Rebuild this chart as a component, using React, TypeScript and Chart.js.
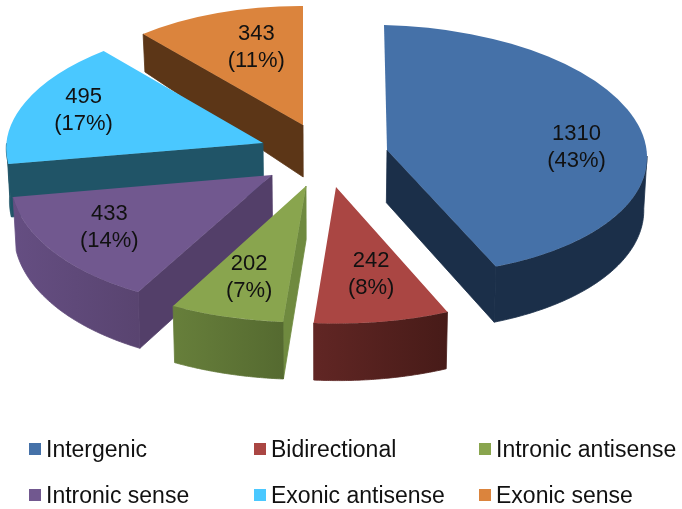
import React, { useEffect, useRef } from "react";
import { Chart, registerables } from "chart.js";

Chart.register(...registerables);

const categories = ["Intergenic", "Bidirectional", "Intronic antisense", "Intronic sense", "Exonic antisense", "Exonic sense"];
const counts = [1310, 242, 202, 433, 495, 343];
const percents = ["43%", "8%", "7%", "14%", "17%", "11%"];
const topColors = ["#4571a8", "#aa4643", "#89a54e", "#71588f", "#4ac8ff", "#db843d"];

const BASE_RADIUS = 262;
const drawOrder = [5, 4, 0, 3, 2, 1];

// Oblique projection of each exploded slice: [a, b, c, d, tx, ty]
const projection: number[][] = [
  [260, 6, 3, 125, 387, 150],
  [273, 1, 0, 136.5, 336, 187],
  [275.7, -1, -0.4, 136.3, 306, 186],
  [261, 0.6, -9.6, 133.8, 272, 175],
  [256.5, -0.4, -11, 121.9, 263, 143],
  [244.6, 1.4, 0, 119, 303, 125],
];
const outerWall = [
  ["#1b2f49", "#1b2f49"],
  ["#612624", "#471b18"],
  ["#677f3b", "#556a30"],
  ["#654e82", "#594470"],
  ["#205467", "#205467"],
  ["#5c3617", "#5c3617"],
];
const sideWall = ["#1b2f49", "#5c2422", "#6f8a3f", "#533f69", "#205467", "#5c3617"];
const labelNudge = [[12, 12], [3, -7], [-1, 0], [-10, -2], [-13, -4], [13, 1]];
const LABEL_FRACTION = 0.7;

const wallDepth = (y: number) => (y < 125 ? 38 + ((y - 35) * 14) / 90 : 52 + ((y - 125) * 5) / 195);

const pie3d = {
  id: "pie3d",
  beforeDatasetsDraw(chart: any) {
    const ctx: CanvasRenderingContext2D = chart.ctx;
    const arcs = chart.getDatasetMeta(0).data;
    const project = (i: number, angle: number, frac: number) => {
      const [a, b, c, d, tx, ty] = projection[i];
      const X = Math.cos(angle) * frac;
      const Y = Math.sin(angle) * frac;
      return { x: tx + a * X + c * Y, y: ty + b * X + d * Y };
    };
    const lower = (p: { x: number; y: number }) => ({
      x: p.x + (323 - p.x) * 0.01,
      y: p.y + wallDepth(p.y),
    });
    const fillPoly = (pts: { x: number; y: number }[], fill: any) => {
      ctx.beginPath();
      pts.forEach((p, k) => (k ? ctx.lineTo(p.x, p.y) : ctx.moveTo(p.x, p.y)));
      ctx.closePath();
      ctx.fillStyle = fill;
      ctx.strokeStyle = fill;
      ctx.lineWidth = 0.8;
      ctx.lineJoin = "round";
      ctx.fill();
      ctx.stroke();
    };
    for (const i of drawOrder) {
      const arc = arcs[i];
      const start = arc.startAngle;
      const end = arc.endAngle;
      const tip = project(i, 0, 0);
      // radial walls facing the viewer (angles measured by the pie scale, 0 = 3 o'clock)
      const thetaStart = start + Math.PI / 2;
      const thetaEnd = end + Math.PI / 2;
      if (Math.sin(thetaStart) < -0.01) {
        const p = project(i, start, 1);
        fillPoly([tip, p, lower(p), lower(tip)], sideWall[i]);
      }
      if (Math.sin(thetaEnd) > 0.01) {
        const p = project(i, end, 1);
        fillPoly([tip, p, lower(p), lower(tip)], sideWall[i]);
      }
      // outer curved wall, front half only
      const from = Math.max(start, 0);
      const to = Math.min(end, Math.PI);
      if (to > from) {
        const top: { x: number; y: number }[] = [];
        const steps = 60;
        for (let k = 0; k <= steps; k++) top.push(project(i, from + ((to - from) * k) / steps, 1));
        const bottom = top.map(lower).reverse();
        const xs = top.map((p) => p.x);
        const grad = ctx.createLinearGradient(Math.min(...xs), 0, Math.max(...xs), 0);
        grad.addColorStop(0, outerWall[i][0]);
        grad.addColorStop(1, outerWall[i][1]);
        fillPoly([...top, ...bottom], grad);
      }
      // top face: the library's own arc element, under the projection
      const [a, b, c, d, tx, ty] = projection[i];
      ctx.save();
      ctx.transform(a / BASE_RADIUS, b / BASE_RADIUS, c / BASE_RADIUS, d / BASE_RADIUS, tx, ty);
      ctx.translate(-arc.x, -arc.y);
      arc.draw(ctx);
      ctx.restore();
    }
    // value labels
    ctx.save();
    ctx.fillStyle = "#111111";
    ctx.font = "22px 'Liberation Sans', Arial, sans-serif";
    ctx.textAlign = "center";
    ctx.textBaseline = "middle";
    arcs.forEach((arc: any, i: number) => {
      const p = project(i, (arc.startAngle + arc.endAngle) / 2, LABEL_FRACTION);
      const x = p.x + labelNudge[i][0];
      const y = p.y + labelNudge[i][1];
      ctx.fillText(String(counts[i]), x, y - 13.5);
      ctx.fillText(`(${percents[i]})`, x, y + 13.5);
    });
    ctx.restore();
    return false;
  },
};

const legendColumns = [29, 254, 479];
const legendRows = [449, 495];

export default function App() {
  const ref = useRef<HTMLCanvasElement>(null);
  useEffect(() => {
    const chart = new Chart(ref.current as HTMLCanvasElement, {
      type: "pie",
      data: {
        labels: categories,
        datasets: [{ data: counts, backgroundColor: topColors, borderWidth: 0 }],
      },
      options: {
        responsive: false,
        animation: false,
        devicePixelRatio: 1,
        radius: BASE_RADIUS,
        layout: { padding: 0 },
        plugins: { legend: { display: false }, tooltip: { enabled: false } },
      } as any,
      plugins: [pie3d as any],
    });
    return () => chart.destroy();
  }, []);
  return (
    <div style={{ position: "fixed", left: 0, top: 0, width: 682, height: 509, background: "#fff", overflow: "hidden" }}>
      <canvas ref={ref} width={682} height={509} style={{ display: "block" }} />
      {categories.map((name, i) => {
        const left = legendColumns[i % 3];
        const cy = legendRows[Math.floor(i / 3)];
        return (
          <React.Fragment key={name}>
            <div style={{ position: "absolute", left, top: cy - 6, width: 12, height: 12, background: topColors[i] }} />
            <div
              style={{
                position: "absolute",
                left: left + 17,
                top: cy - 15,
                height: 30,
                lineHeight: "30px",
                fontFamily: "'Liberation Sans', Arial, sans-serif",
                fontSize: 23,
                color: "#111",
                whiteSpace: "nowrap",
              }}
            >
              {name}
            </div>
          </React.Fragment>
        );
      })}
    </div>
  );
}
